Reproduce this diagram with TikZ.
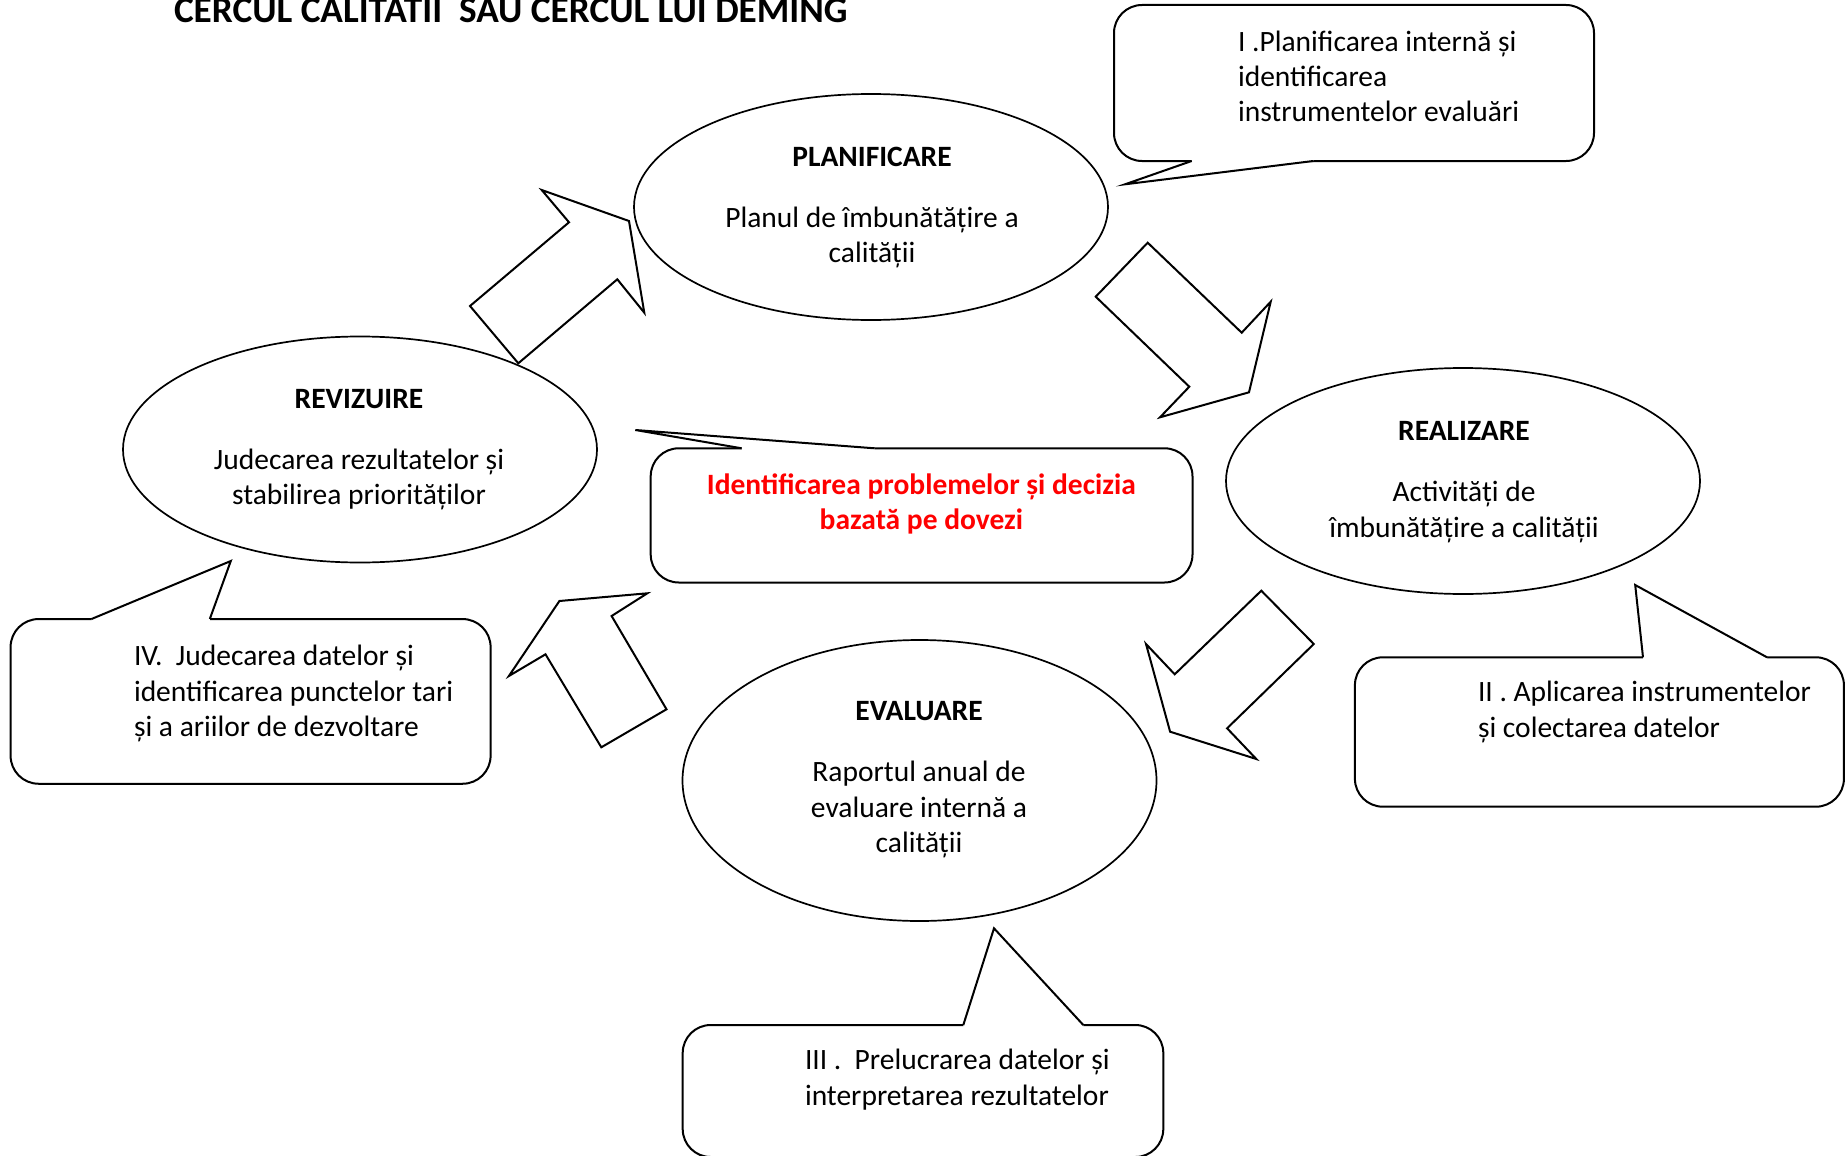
\documentclass[tikz,border=0pt]{standalone}
\usepackage{fontspec}
\setmainfont{Carlito}
\usetikzlibrary{shapes.geometric}
\begin{document}
\begin{tikzpicture}[x=1pt,y=-1pt,
  every node/.style={inner sep=0pt,outer sep=0pt},
  phase/.style={ellipse,draw,line width=1.7pt,minimum width=474pt,minimum height=226pt},
  callbox/.style={rectangle,draw,line width=2pt,rounded corners=28pt},
  tailline/.style={draw,line width=2pt,line join=miter},
  blockarrow/.style={draw,line width=2pt,fill=white,line join=miter},
  headtxt/.style={font=\bfseries\fontsize{29.5}{35.3}\selectfont},
  bodytxt/.style={font=\fontsize{29.5}{35.3}\selectfont,align=center},
  notetxt/.style={font=\fontsize{29.5}{35.3}\selectfont,align=left,anchor=west}]
\fill[white] (0,0) rectangle (1845,1156);
\useasboundingbox (0,0) rectangle (1845,1156);

% title
\node[anchor=base west,font=\bfseries\fontsize{37.25}{40}\selectfont] (title) at (174,23) {CERCUL CALITATII~ SAU CERCUL LUI DEMING};

% phases
\node[phase] (plan) at (871,207) {};
\node[phase] (rev) at (360,449.5) {};
\node[phase] (real) at (1463,481) {};
\node[phase,minimum height=281pt] (eval) at (919.5,780.5) {};

% block arrows
\draw[blockarrow] (470,306) -- (518.3,363.3) -- (617.3,279.3) -- (644.3,312.7) -- (629,221) -- (541.7,190) -- (569,222.3) -- cycle;
\draw[blockarrow] (1147.7,242.7) -- (1095.7,296.7) -- (1189.3,386.7) -- (1160,417.3) -- (1249,392.3) -- (1270.7,301.7) -- (1241.7,332.7) -- cycle;
\draw[blockarrow] (1261.3,590.7) -- (1313.8,644) -- (1227.1,728.3) -- (1256.3,759) -- (1170.1,731.7) -- (1146,644) -- (1174.7,674.3) -- cycle;
\draw[blockarrow] (559.4,601) -- (647.3,593.3) -- (611.6,616) -- (666.5,709.3) -- (601.3,747.3) -- (545.5,654.3) -- (508.9,676) -- cycle;

% callout boxes
\node[callbox,minimum width=480pt,minimum height=156pt] (cI) at (1354,83) {};
\node[callbox,minimum width=480pt,minimum height=164.7pt] (cIV) at (250.6,701.4) {};
\node[callbox,minimum width=489pt,minimum height=149.4pt] (cII) at (1599.4,732) {};
\node[callbox,minimum width=480.6pt,minimum height=132pt] (cIII) at (923,1091) {};
\node[callbox,minimum width=541.8pt,minimum height=134.2pt] (cC) at (921.6,515.4) {};

% tails
\coordinate (tIa) at (1191.7,161); \coordinate (tIt) at (1125,184.3); \coordinate (tIb) at (1313.3,161);
\fill[white] (tIa) -- (tIt) -- (tIb) -- ([yshift=4pt]tIb) -- ([yshift=4pt]tIa) -- cycle;
\draw[tailline] (tIa) -- (tIt) -- (tIb);

\coordinate (tCa) at (741.7,448.3); \coordinate (tCt) at (635.3,430); \coordinate (tCb) at (874.5,448.3);
\fill[white] (tCa) -- (tCt) -- (tCb) -- ([yshift=-4pt]tCb) -- ([yshift=-4pt]tCa) -- cycle;
\draw[tailline] (tCa) -- (tCt) -- (tCb);

\coordinate (tIVa) at (91.5,619); \coordinate (tIVt) at (230.8,561); \coordinate (tIVb) at (209.8,619);
\fill[white] (tIVa) -- (tIVt) -- (tIVb) -- ([yshift=-4pt]tIVb) -- ([yshift=-4pt]tIVa) -- cycle;
\draw[tailline] (tIVa) -- (tIVt) -- (tIVb);

\coordinate (tIIa) at (1643,657.3); \coordinate (tIIt) at (1635.2,585); \coordinate (tIIb) at (1767,657.3);
\fill[white] (tIIa) -- (tIIt) -- (tIIb) -- ([yshift=-4pt]tIIb) -- ([yshift=-4pt]tIIa) -- cycle;
\draw[tailline] (tIIa) -- (tIIt) -- (tIIb);

\coordinate (tIIIa) at (963.3,1025); \coordinate (tIIIt) at (994,928.3); \coordinate (tIIIb) at (1083.3,1025);
\fill[white] (tIIIa) -- (tIIIt) -- (tIIIb) -- ([yshift=-4pt]tIIIb) -- ([yshift=-4pt]tIIIa) -- cycle;
\draw[tailline] (tIIIa) -- (tIIIt) -- (tIIIb);

% phase texts
\node[headtxt] (planT) at (872,156.5) {PLANIFICARE};
\node[bodytxt] (planB) at (872,237.8) {Planul de îmbunătățire a\\calității};
\node[headtxt] (revT) at (359,399.2) {REVIZUIRE};
\node[bodytxt] (revB) at (359,479.2) {Judecarea rezultatelor și\\stabilirea priorităților};
\node[headtxt] (realT) at (1464,430.7) {REALIZARE};
\node[bodytxt] (realB) at (1464,512) {Activități de\\îmbunătățire a calității};
\node[headtxt] (evalT) at (919,710.7) {EVALUARE};
\node[bodytxt] (evalB) at (919,809.5) {Raportul anual de\\evaluare internă a\\calității};

% callout texts
\node[notetxt] (nI) at (1238,76.3) {I .Planificarea internă și\\identificarea\\instrumentelor evaluări};
\node[notetxt] (nIV) at (134,693.5) {IV.~ Judecarea datelor și\\identificarea punctelor tari\\și a ariilor de dezvoltare};
\node[notetxt] (nII) at (1478,712) {II . Aplicarea instrumentelor\\și colectarea datelor};
\node[notetxt] (nIII) at (805,1079.5) {III .~ Prelucrarea datelor și\\interpretarea rezultatelor};
\node[font=\bfseries\fontsize{29.5}{35.3}\selectfont,align=center,text=red] (nC) at (921.4,503.8) {Identificarea problemelor și decizia\\bazată pe dovezi};
\end{tikzpicture}
\end{document}
